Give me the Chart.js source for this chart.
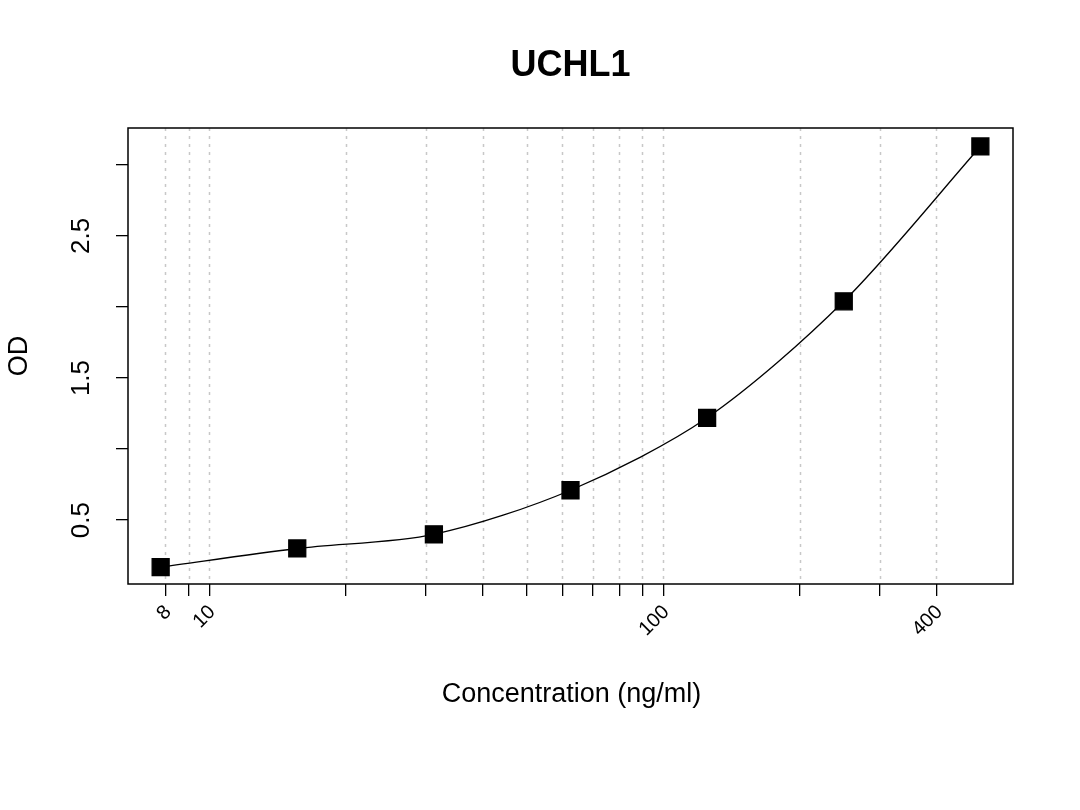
<!DOCTYPE html>
<html><head><meta charset="utf-8">
<script src="https://cdn.jsdelivr.net/npm/chart.js@4"></script>
<style>html,body{margin:0;padding:0;background:#fff}#w{width:1080px;height:810px}</style>
</head><body><div id="w"><canvas id="c" width="1080" height="810"></canvas></div>
<script>
const concentrations = [7.8125, 15.625, 31.25, 62.5, 125, 250, 500];
const odValues = [0.169, 0.30, 0.40, 0.71, 1.22, 2.04, 3.13];
const xTickValues = [8, 9, 10, 20, 30, 40, 50, 60, 70, 80, 90, 100, 200, 300, 400];
const xTickLabels = ["8", "", "10", "", "", "", "", "", "", "", "", "100", "", "", "400"];
const yTickValues = [0.5, 1, 1.5, 2, 2.5, 3];
const yTickLabels = ["0.5", "", "1.5", "", "2.5", ""];
const FONT = 'Liberation Sans, Arial, sans-serif';

const gridPlugin = {
  id: 'grid',
  beforeDatasetsDraw(chart) {
    const ctx = chart.ctx, a = chart.chartArea, xs = chart.scales.x;
    ctx.save();
    ctx.strokeStyle = '#c8c8c8'; ctx.lineWidth = 1.5; ctx.setLineDash([3, 5]);
    xTickValues.forEach(v => {
      const p = Math.round(xs.getPixelForValue(v)) + 0.5;
      ctx.beginPath(); ctx.moveTo(p, a.top); ctx.lineTo(p, a.bottom); ctx.stroke();
    });
    ctx.restore();
  }
};

const textPlugin = {
  id: 'txt',
  afterDraw(chart) {
    const ctx = chart.ctx, a = chart.chartArea, xs = chart.scales.x, ys = chart.scales.y;
    ctx.save();
    ctx.strokeStyle = '#000'; ctx.lineWidth = 1.5;
    ctx.strokeRect(a.left, a.top, a.right - a.left, a.bottom - a.top);
    ctx.fillStyle = '#000';
    ctx.textAlign = 'center'; ctx.textBaseline = 'middle';
    ctx.font = 'bold 36px ' + FONT;
    ctx.fillText('UCHL1', (a.left + a.right) / 2, 66);
    ctx.font = '27px ' + FONT;
    ctx.fillText('Concentration (ng/ml)', (a.left + a.right) / 2 + 1, 695);
    ctx.save(); ctx.translate(20, (a.top + a.bottom) / 2); ctx.rotate(-Math.PI / 2);
    ctx.fillText('OD', 0, 0); ctx.restore();
    ctx.font = '26px ' + FONT;
    yTickValues.forEach((v, i) => {
      if (!yTickLabels[i]) return;
      ctx.save(); ctx.translate(82, ys.getPixelForValue(v)); ctx.rotate(-Math.PI / 2);
      ctx.fillText(yTickLabels[i], 0, 0); ctx.restore();
    });
    ctx.font = '20px ' + FONT; ctx.textAlign = 'right';
    xTickValues.forEach((v, i) => {
      if (!xTickLabels[i]) return;
      ctx.save(); ctx.translate(xs.getPixelForValue(v) + 3, 609); ctx.rotate(-Math.PI / 4);
      ctx.fillText(xTickLabels[i], 0, 0); ctx.restore();
    });
    ctx.restore();
  }
};

new Chart(document.getElementById('c'), {
  type: 'scatter',
  data: { datasets: [{
    data: concentrations.map((x, i) => ({ x, y: odValues[i] })),
    showLine: true, tension: 0.3,
    borderColor: '#000', borderWidth: 1.3, backgroundColor: '#000',
    pointStyle: 'rect', pointRadius: 12, pointHoverRadius: 12
  }] },
  options: {
    responsive: false, animation: false, devicePixelRatio: 1,
    layout: { padding: { top: 128, right: 67, left: 0, bottom: 0 } },
    plugins: { legend: { display: false }, tooltip: { enabled: false }, title: { display: false } },
    scales: {
      x: {
        type: 'logarithmic', min: 6.62, max: 590,
        afterBuildTicks: s => { s.ticks = xTickValues.map(v => ({ value: v })); },
        afterFit: s => { s.height = 226; },
        ticks: { callback: () => '', autoSkip: false },
        border: { display: false },
        grid: { drawOnChartArea: false, color: '#000', tickLength: 12, lineWidth: 1.3 }
      },
      y: {
        min: 0.05, max: 3.26,
        afterBuildTicks: s => { s.ticks = yTickValues.map(v => ({ value: v })); },
        afterFit: s => { s.width = 128; },
        ticks: { callback: () => '' },
        border: { display: false },
        grid: { drawOnChartArea: false, color: '#000', tickLength: 12, lineWidth: 1.3 }
      }
    }
  },
  plugins: [gridPlugin, textPlugin]
});
</script></body></html>
